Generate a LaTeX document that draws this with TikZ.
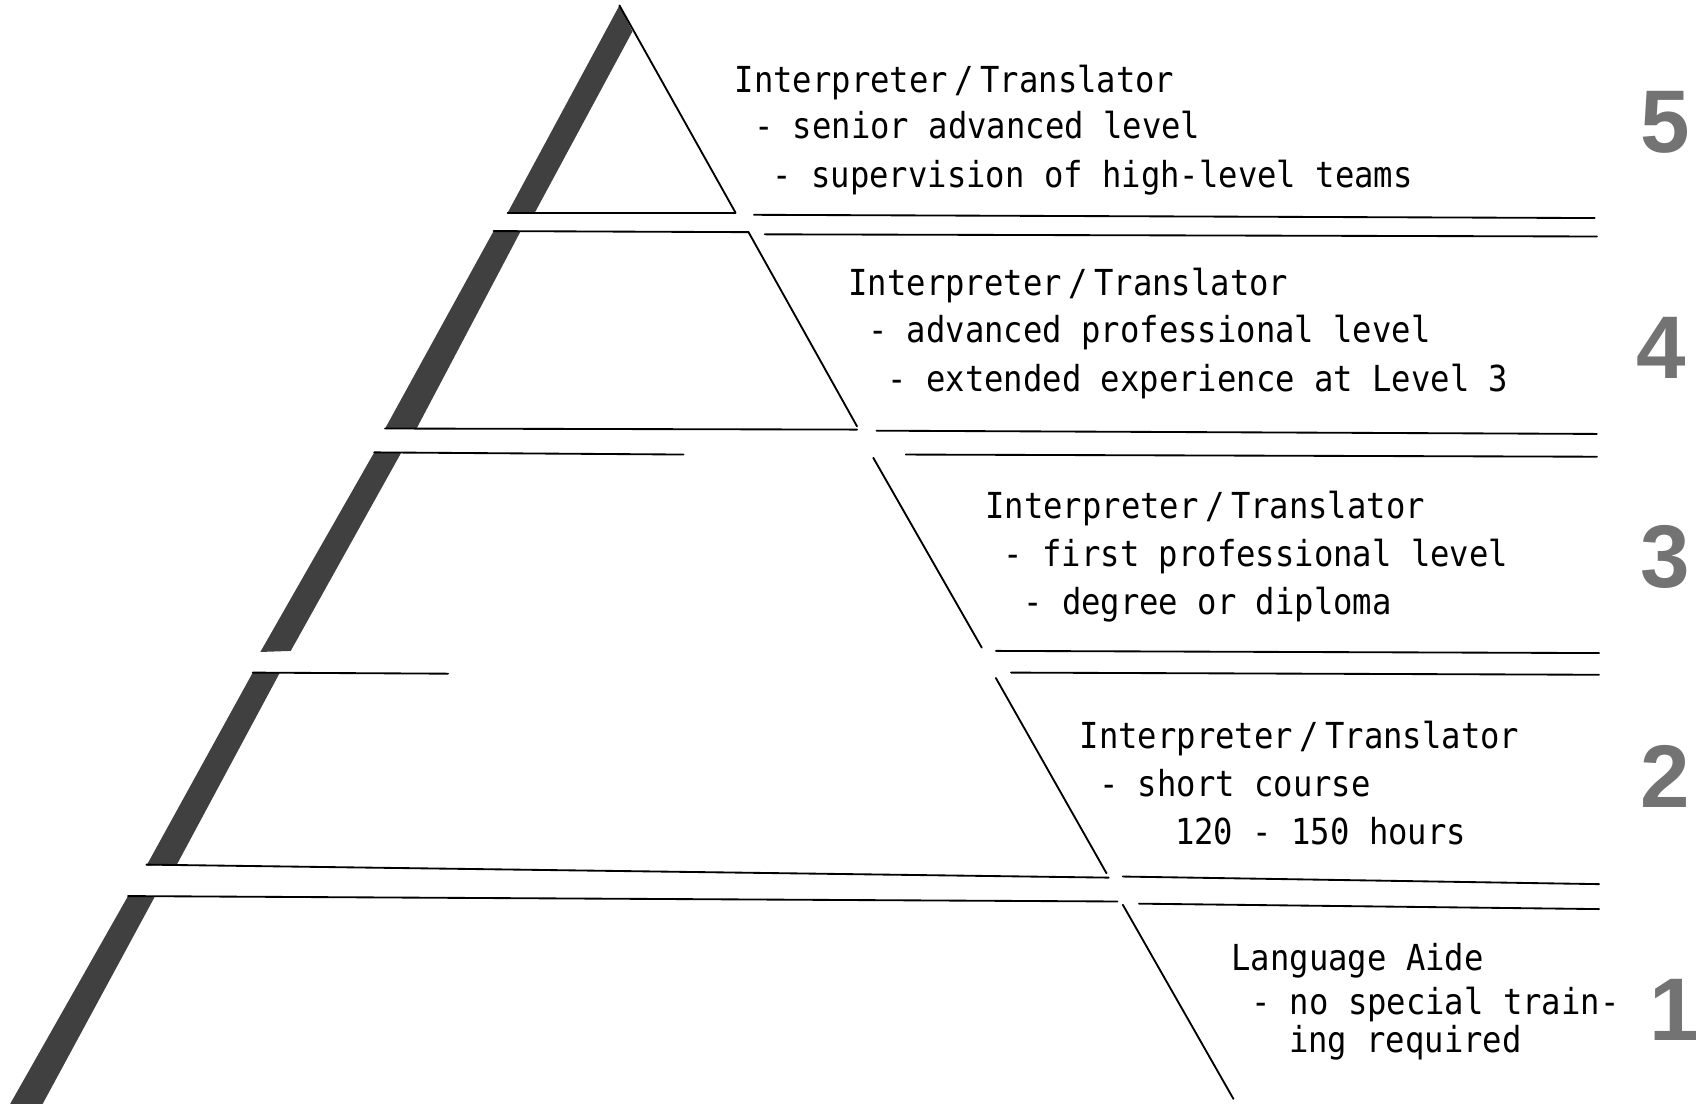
\documentclass[tikz,border=0pt]{standalone}
\usepackage{fontspec}
\newfontfamily\plotfont[FakeStretch=0.9]{DejaVu Sans Mono}
\newfontfamily\numfont{Liberation Sans}
\newcommand{\intr}{Interpreter\kern6pt/\kern6pt Translator}
\begin{document}
\begin{tikzpicture}[x=1pt,y=-1pt,
  edge/.style={line width=1.7pt, line cap=round},
  strip/.style={fill=black!75},
  lbl/.style={anchor=base west, inner sep=0pt, font=\plotfont\fontsize{33}{40}\selectfont},
  num/.style={inner sep=0pt, text=black!55, font=\numfont\bfseries\fontsize{82}{82}\selectfont}]
\useasboundingbox (0,0) rectangle (1568,1017);
\fill[white] (0,0) rectangle (1568,1017);

% ---- level 5 (apex triangle)
\fill[strip] (571,5) -- (583,29) -- (493,196) -- (468,196) -- cycle;
\draw[edge] (571,5) -- (678,196);
\draw[edge] (468,196) -- (678,196);
\draw[edge] (695,198) -- (1470,201);

% ---- level 4
\fill[strip] (455,213) -- (480,213) -- (384,395) -- (355,395) -- cycle;
\draw[edge] (455,213) -- (690,214);
\draw[edge] (705,216) -- (1472,218);
\draw[edge] (690,214) -- (790,393);
\draw[edge] (355,395) -- (790,396);
\draw[edge] (808,397) -- (1472,400);

% ---- level 3
\fill[strip] (345,417) -- (370,417) -- (268,600) -- (240,601) -- cycle;
\draw[edge] (345,417) -- (630,419);
\draw[edge] (835,419) -- (1472,421);
\draw[edge] (805,422) -- (905,597);
\draw[edge] (918,600) -- (1474,602);

% ---- level 2
\fill[strip] (233,620) -- (258,620) -- (163,797) -- (135,798) -- cycle;
\draw[edge] (233,620) -- (413,621);
\draw[edge] (932,620) -- (1474,622);
\draw[edge] (918,625) -- (1020,805);
\draw[edge] (135,797) -- (1022,809);
\draw[edge] (1035,808) -- (1474,815);

% ---- level 1
\fill[strip] (118,826) -- (143,826) -- (38,1020) -- (8,1020) -- cycle;
\draw[edge] (118,826) -- (1030,831);
\draw[edge] (1050,833) -- (1474,838);
\draw[edge] (1035,834) -- (1137,1013);

% ---- texts
\node[lbl] (t5a) at (677,85)  {\intr};
\node[lbl] (t5b) at (695,128) {- senior advanced level};
\node[lbl] (t5c) at (712,173) {- supervision of high-level teams};

\node[lbl] (t4a) at (782,272) {\intr};
\node[lbl] (t4b) at (800,316) {- advanced professional level};
\node[lbl] (t4c) at (818,361) {- extended experience at Level 3};

\node[lbl] (t3a) at (908,478) {\intr};
\node[lbl] (t3b) at (925,522) {- first professional level};
\node[lbl] (t3c) at (943,566) {- degree or diploma};

\node[lbl] (t2a) at (995,690)  {\intr};
\node[lbl] (t2b) at (1013,734) {- short course};
\node[lbl] (t2c) at (1083,778) {120 - 150 hours};

\node[lbl] (t1a) at (1135,895) {Language Aide};
\node[lbl] (t1b) at (1153,935) {- no special train-};
\node[lbl] (t1c) at (1188,970) {ing required};

% ---- level numbers
\node[num] (n5) at (1535,113) {5};
\node[num] (n4) at (1531,321) {4};
\node[num] (n3) at (1535,513) {3};
\node[num] (n2) at (1535,716) {2};
\node[num] (n1) at (1543,931) {1};
\end{tikzpicture}
\end{document}
